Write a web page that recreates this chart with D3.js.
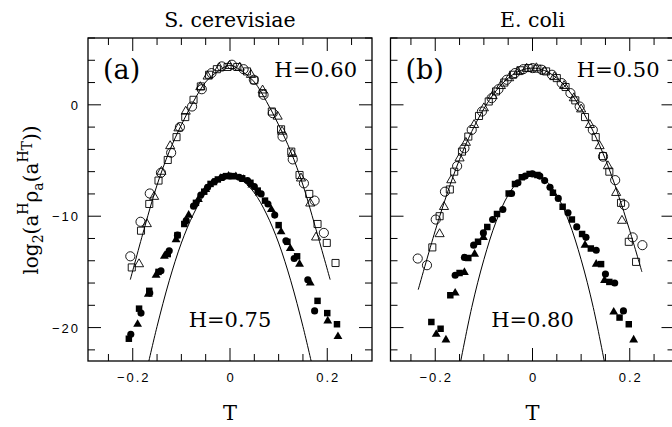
<!DOCTYPE html>
<html>
<head>
<meta charset="utf-8">
<script src="https://cdn.jsdelivr.net/npm/d3@7"></script>
<style>
  body { margin: 0; background: #fff; }
  .serif { font-family: "DejaVu Serif", serif; fill: #000; }
  .tick-label { font-family: "Liberation Sans", Arial, sans-serif; font-size: 13px; letter-spacing: 2px; fill: #000; }
</style>
</head>
<body>
<svg id="chart" width="672" height="427"></svg>
<script>
// ---- data: [T, log2(a^H rho_a(a^H T))] ----
const xTicksMajor = [-0.2, 0, 0.2]
const yTicksMajor = [0, -10, -20]

// panel (a) S. cerevisiae, upper set (open symbols)
const aOpenCircle = [[-0.205,-13.6],[-0.184,-10.5],[-0.165,-7.96],[-0.142,-6.1],[-0.121,-4.3],[-0.103,-2.0],[-0.078,-0.15],[-0.058,1.4],[-0.038,2.85],[-0.017,3.45],[0.004,3.6],[0.028,3.2],[0.049,2.25],[0.069,0.9],[0.088,-0.75],[0.108,-2.85],[0.129,-4.9],[0.152,-7.05],[0.174,-8.6],[0.193,-11.5]]
const aOpenSquare = [[-0.202,-14.6],[-0.183,-11.3],[-0.166,-8.9],[-0.147,-6.8],[-0.128,-4.95],[-0.110,-2.9],[-0.092,-1.1],[-0.075,0.45],[-0.060,1.65],[-0.043,2.7],[-0.027,3.2],[-0.005,3.4],[0.015,3.4],[0.035,3.0],[0.05,2.2],[0.067,1.05],[0.086,-0.6],[0.105,-2.2],[0.126,-4.2],[0.143,-6.3],[0.163,-8.0],[0.180,-10.7],[0.199,-12.4],[0.217,-14.2]]
const aOpenTriangle = [[-0.187,-14.3],[-0.171,-10.7],[-0.156,-8.25],[-0.141,-6.0],[-0.123,-3.7],[-0.106,-2.1],[-0.091,-0.6],[-0.061,1.6],[-0.046,2.55],[-0.022,3.3],[-0.001,3.5],[0.02,3.35],[0.043,2.7],[0.067,1.3],[0.098,-1.05],[0.107,-2.4],[0.128,-4.4],[0.146,-6.6],[0.165,-8.85],[0.177,-11.9]]
// panel (a), lower set (filled symbols)
const aFillCircle = [[-0.204,-20.6],[-0.183,-18.7],[-0.165,-16.9],[-0.142,-14.9],[-0.125,-13.1],[-0.108,-11.7],[-0.09,-10.4],[-0.075,-9.1],[-0.06,-8.1],[-0.046,-7.4],[-0.032,-6.9],[-0.015,-6.5],[0.0,-6.4],[0.019,-6.5],[0.036,-6.8],[0.05,-7.35],[0.064,-8.0],[0.078,-8.9],[0.092,-9.9],[0.115,-12.2],[0.132,-13.8],[0.16,-15.7],[0.174,-18.5]]
const aFillSquare = [[-0.208,-21.0],[-0.187,-18.3],[-0.166,-16.7],[-0.147,-15.0],[-0.128,-13.4],[-0.108,-11.7],[-0.094,-10.7],[-0.07,-8.8],[-0.053,-7.8],[-0.04,-7.1],[-0.025,-6.7],[-0.008,-6.4],[0.008,-6.4],[0.025,-6.6],[0.042,-7.0],[0.057,-7.7],[0.072,-8.6],[0.1,-10.8],[0.118,-12.3],[0.138,-13.6],[0.18,-17.6],[0.2,-18.7],[0.22,-19.7]]
const aFillTriangle = [[-0.19,-19.7],[-0.168,-17.0],[-0.152,-15.3],[-0.135,-13.6],[-0.111,-12.1],[-0.085,-9.9],[-0.065,-8.5],[-0.05,-7.6],[-0.035,-7.0],[-0.02,-6.6],[-0.003,-6.4],[0.012,-6.45],[0.028,-6.7],[0.045,-7.2],[0.06,-7.9],[0.085,-9.4],[0.105,-11.4],[0.124,-12.9],[0.143,-14.3],[0.165,-16.0],[0.201,-19.4],[0.222,-20.8]]
// fitted curves (a)
const aCurveUpperT = [-0.205,-0.175,-0.15,-0.125,-0.1,-0.075,-0.05,-0.025,0,0.025,0.05,0.075,0.1,0.125,0.15,0.175,0.206]
const aCurveUpperV = [-15.7,-10.9,-7.2,-4.2,-1.8,0.3,2.05,3.0,3.55,3.0,2.05,0.3,-1.8,-4.2,-7.2,-10.9,-15.7]
const aCurveLowerT = [-0.17,-0.15,-0.125,-0.1,-0.075,-0.05,-0.025,0,0.025,0.05,0.075,0.1,0.125,0.15,0.17]
const aCurveLowerV = [-23.6,-19.9,-15.8,-12.4,-9.8,-7.9,-6.8,-6.4,-6.8,-7.9,-9.8,-12.4,-15.8,-19.9,-23.6]

// panel (b) E. coli, upper set (open symbols)
const bOpenCircle = [[-0.236,-13.8],[-0.217,-14.4],[-0.199,-10.3],[-0.18,-7.8],[-0.155,-5.5],[-0.14,-3.9],[-0.125,-2.25],[-0.104,-0.6],[-0.084,0.6],[-0.07,1.4],[-0.053,2.25],[-0.036,2.85],[-0.019,3.2],[0.0,3.3],[0.019,3.15],[0.04,2.7],[0.06,1.95],[0.078,1.05],[0.097,-0.15],[0.124,-2.25],[0.145,-4.65],[0.17,-6.76],[0.189,-9.0],[0.206,-11.9],[0.226,-12.6]]
const bOpenSquare = [[-0.206,-12.8],[-0.191,-10.0],[-0.17,-7.6],[-0.161,-6.0],[-0.145,-4.2],[-0.132,-2.85],[-0.11,-1.0],[-0.09,0.3],[-0.075,1.2],[-0.058,2.0],[-0.04,2.7],[-0.025,3.1],[-0.008,3.3],[0.01,3.25],[0.028,3.0],[0.05,2.4],[0.068,1.6],[0.088,0.4],[0.108,-1.1],[0.13,-2.9],[0.145,-4.6],[0.158,-6.0],[0.182,-8.8],[0.198,-12.3],[0.213,-14.1]]
const bOpenTriangle = [[-0.191,-11.6],[-0.182,-9.16],[-0.167,-6.76],[-0.15,-4.8],[-0.137,-3.4],[-0.12,-1.8],[-0.1,-0.3],[-0.082,0.8],[-0.065,1.7],[-0.048,2.4],[-0.03,2.95],[-0.012,3.25],[0.008,3.3],[0.025,3.0],[0.045,2.5],[0.065,1.7],[0.085,0.6],[0.1,-0.4],[0.118,-1.8],[0.138,-3.7],[0.155,-5.5],[0.172,-7.9],[0.184,-10.4]]
// panel (b), lower set (filled symbols)
const bFillCircle = [[-0.159,-15.3],[-0.14,-13.7],[-0.121,-12.6],[-0.101,-11.5],[-0.082,-10.3],[-0.061,-9.4],[-0.043,-7.96],[-0.03,-7.0],[-0.015,-6.4],[0.0,-6.2],[0.015,-6.4],[0.025,-6.8],[0.036,-7.4],[0.053,-8.4],[0.073,-9.7],[0.091,-10.96],[0.11,-11.9],[0.131,-13.06],[0.15,-15.2],[0.169,-16.0],[0.187,-18.5]]
const bFillSquare = [[-0.208,-19.5],[-0.189,-20.1],[-0.169,-17.1],[-0.15,-15.1],[-0.132,-13.75],[-0.112,-12.3],[-0.093,-10.96],[-0.073,-9.8],[-0.049,-7.96],[-0.036,-7.1],[-0.022,-6.5],[-0.006,-6.2],[0.01,-6.3],[0.042,-7.9],[0.062,-9.16],[0.081,-10.3],[0.102,-11.6],[0.12,-12.9],[0.141,-14.3],[0.158,-15.9],[0.179,-19.1],[0.198,-19.7]]
const bFillTriangle = [[-0.198,-20.6],[-0.178,-21.1],[-0.159,-16.9],[-0.14,-15.05],[-0.119,-13.4],[-0.101,-11.9],[0.108,-12.6],[0.131,-14.3],[0.148,-15.76],[0.167,-18.6],[0.208,-21.1]]
// fitted curves (b)
const bCurveUpperT = [-0.235,-0.2,-0.175,-0.15,-0.125,-0.1,-0.075,-0.05,-0.025,0,0.025,0.05,0.075,0.1,0.125,0.15,0.175,0.2,0.225]
const bCurveUpperV = [-16.6,-11.3,-7.9,-4.9,-2.4,-0.35,1.25,2.4,3.07,3.3,3.07,2.4,1.25,-0.35,-2.4,-4.9,-7.9,-11.3,-15.0]
const bCurveLowerT = [-0.152,-0.125,-0.1,-0.075,-0.05,-0.025,0,0.025,0.05,0.075,0.1,0.125,0.152]
const bCurveLowerV = [-24.0,-18.2,-13.9,-10.5,-8.1,-6.7,-6.2,-6.7,-8.1,-10.5,-13.9,-18.2,-24.0]

const zip = (ts, vs) => ts.map((t, i) => [t, vs[i]])

const panels = [
  {
    id: "a", left: 88, title: "S. cerevisiae", tag: "(a)", hTop: "H=0.60", hBottom: "H=0.75",
    open: [aOpenCircle, aOpenSquare, aOpenTriangle],
    filled: [aFillCircle, aFillSquare, aFillTriangle],
    curves: [zip(aCurveUpperT, aCurveUpperV), zip(aCurveLowerT, aCurveLowerV)],
    yLabels: true,
  },
  {
    id: "b", left: 390.5, title: "E. coli", tag: "(b)", hTop: "H=0.50", hBottom: "H=0.80",
    open: [bOpenCircle, bOpenSquare, bOpenTriangle],
    filled: [bFillCircle, bFillSquare, bFillTriangle],
    curves: [zip(bCurveUpperT, bCurveUpperV), zip(bCurveLowerT, bCurveLowerV)],
    yLabels: false,
  },
]

const svg = d3.select("#chart")
const panelW = 284
const frameTop = 38
const frameBottom = 361

const y = d3.scaleLinear().domain([-23, 6]).range([frameBottom, frameTop])

const shapes = [d3.symbolCircle, d3.symbolSquare, d3.symbolTriangle]
const openSizes = [66, 50, 36]
const fillSizes = [40, 42, 34]

panels.forEach((p) => {
  const x = d3.scaleLinear().domain([-0.292, 0.292]).range([p.left, p.left + panelW])
  const g = svg.append("g")

  g.append("clipPath").attr("id", "clip-" + p.id)
    .append("rect")
    .attr("x", p.left).attr("y", frameTop)
    .attr("width", panelW).attr("height", frameBottom - frameTop)

  // ticks, inward on all four sides
  const xMinor = d3.range(-0.25, 0.2501, 0.05).map((d) => +d.toFixed(2))
  const yMinor = d3.range(-22, 6.01, 2)
  const isMajorX = (d) => xTicksMajor.some((m) => Math.abs(m - d) < 1e-6)
  const isMajorY = (d) => yTicksMajor.includes(d)

  const ticks = g.append("g").attr("stroke", "#000").attr("stroke-width", 1)
  xMinor.forEach((d) => {
    const len = isMajorX(d) ? 13 : 7
    ticks.append("line").attr("x1", x(d)).attr("x2", x(d)).attr("y1", frameBottom).attr("y2", frameBottom - len)
    ticks.append("line").attr("x1", x(d)).attr("x2", x(d)).attr("y1", frameTop).attr("y2", frameTop + len)
  })
  yMinor.forEach((d) => {
    const len = isMajorY(d) ? 13 : 7
    ticks.append("line").attr("y1", y(d)).attr("y2", y(d)).attr("x1", p.left).attr("x2", p.left + len)
    ticks.append("line").attr("y1", y(d)).attr("y2", y(d)).attr("x1", p.left + panelW).attr("x2", p.left + panelW - len)
  })

  // frame
  g.append("rect")
    .attr("x", p.left).attr("y", frameTop)
    .attr("width", panelW).attr("height", frameBottom - frameTop)
    .attr("fill", "none").attr("stroke", "#000").attr("stroke-width", 1.3)

  // tick labels (letter-spacing adds a trailing gap, hence the dx)
  g.selectAll(".xl").data(xTicksMajor).enter().append("text")
    .attr("class", "tick-label")
    .attr("x", (d) => x(d)).attr("dx", 1).attr("y", 382)
    .attr("text-anchor", "middle")
    .text((d) => d3.format(".1~f")(d).replace("-", "\u2212"))

  if (p.yLabels) {
    g.selectAll(".yl").data(yTicksMajor).enter().append("text")
      .attr("class", "tick-label")
      .attr("x", 80).attr("y", (d) => y(d) + 5)
      .attr("text-anchor", "end")
      .text((d) => String(d).replace("-", "\u2212"))
  }

  const plot = g.append("g").attr("clip-path", `url(#clip-${p.id})`)

  // fitted curves
  const line = d3.line().x((d) => x(d[0])).y((d) => y(d[1])).curve(d3.curveCatmullRom)
  p.curves.forEach((c) => {
    plot.append("path").attr("d", line(c))
      .attr("fill", "none").attr("stroke", "#000").attr("stroke-width", 1)
  })

  // open symbols
  p.open.forEach((series, i) => {
    plot.selectAll(null).data(series).enter().append("path")
      .attr("d", d3.symbol().type(shapes[i]).size(openSizes[i]))
      .attr("transform", (d) => `translate(${x(d[0])},${y(d[1])})`)
      .attr("fill", "none").attr("stroke", "#000").attr("stroke-width", 0.9)
  })
  // filled symbols
  p.filled.forEach((series, i) => {
    plot.selectAll(null).data(series).enter().append("path")
      .attr("d", d3.symbol().type(shapes[i]).size(fillSizes[i]))
      .attr("transform", (d) => `translate(${x(d[0])},${y(d[1])})`)
      .attr("fill", "#000")
  })

  // texts
  g.append("text").attr("class", "serif")
    .attr("x", x(0)).attr("y", 27).attr("text-anchor", "middle")
    .style("font-size", "20.5px").text(p.title)
  g.append("text").attr("class", "serif")
    .attr("x", p.left + 15).attr("y", 79)
    .style("font-size", "27px").text(p.tag)
  g.append("text").attr("class", "serif")
    .attr("x", p.left + panelW - 15).attr("y", 77).attr("text-anchor", "end")
    .style("font-size", "21px").text(p.hTop)
  g.append("text").attr("class", "serif")
    .attr("x", x(0)).attr("y", 327).attr("text-anchor", "middle")
    .style("font-size", "21px").text(p.hBottom)
  g.append("text").attr("class", "serif")
    .attr("x", x(0)).attr("y", 420).attr("text-anchor", "middle")
    .style("font-size", "21px").text("T")
})

// y axis title: log2(a^H rho_a(a^H T))
const yTitle = svg.append("text").attr("class", "serif")
  .attr("transform", "translate(38,200) rotate(-90)")
  .attr("text-anchor", "middle")
  .style("font-size", "20px")
const parts = [
  ["log", 0, 20], ["2", 5, 14], ["(a", -5, 20], ["H", -10, 14],
  ["\u03C1", 10, 20], ["a", 5, 14], ["(a", -5, 20], ["H", -10, 14], ["T", 4, 14], ["))", 6, 20],
]
parts.forEach(([t, dy, fs]) => {
  yTitle.append("tspan").attr("dy", dy).style("font-size", fs + "px").text(t)
})
</script>
</body>
</html>
